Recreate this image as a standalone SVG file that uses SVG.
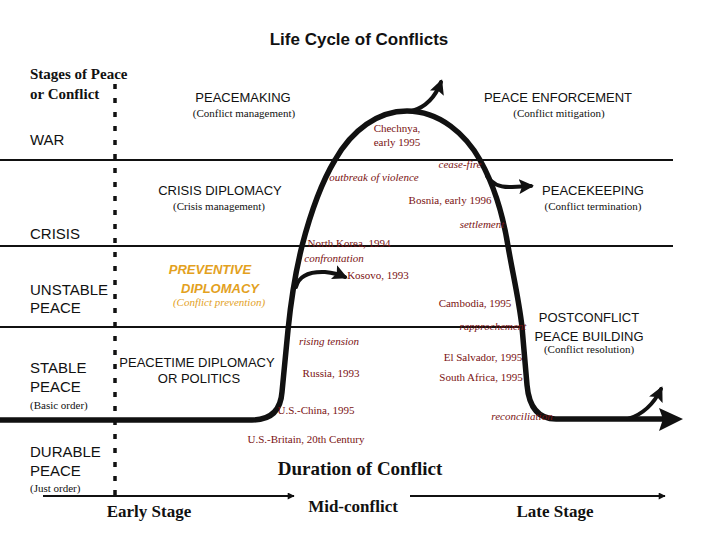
<svg xmlns="http://www.w3.org/2000/svg" width="720" height="540" viewBox="0 0 720 540">
<style>
.sans{font-family:"Liberation Sans",Arial,sans-serif;fill:#111}
.serif{font-family:"Liberation Serif","Times New Roman",serif;fill:#111}
.lbl{font-size:15px}
.hd{font-size:13px}
.sub{font-size:11px}
.red{font-family:"Liberation Serif","Times New Roman",serif;font-size:11px;fill:#7a1212}
.it{font-style:italic}
.bold{font-weight:bold}
.org{fill:#e3a11e}
.grid{stroke:#111;stroke-width:2;fill:none}
.curve{stroke:#111;stroke-width:5.5;fill:none;stroke-linecap:round;stroke-linejoin:round}
.branch{stroke:#111;stroke-width:4;fill:none;stroke-linecap:round}
.axis{stroke:#111;stroke-width:2;fill:none}
</style>
<defs>
<marker id="ah" viewBox="0 0 10 10" refX="8" refY="5" markerWidth="15" markerHeight="15" markerUnits="userSpaceOnUse" orient="auto"><path d="M0,0 L10,5 L0,10 L2,5 z" fill="#111"/></marker>
<marker id="sm" viewBox="0 0 10 10" refX="9" refY="5" markerWidth="8" markerHeight="7" markerUnits="userSpaceOnUse" orient="auto"><path d="M0,0 L10,5 L0,10 z" fill="#111"/></marker>
</defs>
<rect width="720" height="540" fill="#fff"/>

<text class="sans bold" x="359" y="45" font-size="17" text-anchor="middle">Life Cycle of Conflicts</text>

<g id="grid">
<line class="grid" x1="0" y1="160" x2="673" y2="160"/>
<line class="grid" x1="0" y1="246" x2="673" y2="246"/>
<line class="grid" x1="0" y1="327" x2="524" y2="327"/>
<line x1="115" y1="84" x2="115" y2="496" stroke="#111" stroke-width="3.5" stroke-dasharray="5 9"/>
</g>

<g id="stages">
<text class="serif bold" x="30" y="79" font-size="15">Stages of Peace</text>
<text class="serif bold" x="30" y="99" font-size="15">or Conflict</text>
<text class="sans lbl" x="30" y="145">WAR</text>
<text class="sans lbl" x="30" y="239">CRISIS</text>
<text class="sans lbl" x="30" y="295">UNSTABLE</text>
<text class="sans lbl" x="30" y="313">PEACE</text>
<text class="sans lbl" x="30" y="373">STABLE</text>
<text class="sans lbl" x="30" y="392">PEACE</text>
<text class="serif sub" x="30" y="409">(Basic order)</text>
<text class="sans lbl" x="30" y="457">DURABLE</text>
<text class="sans lbl" x="30" y="476">PEACE</text>
<text class="serif sub" x="30" y="492">(Just order)</text>
</g>

<g id="peacemaking">
<text class="sans hd" x="243" y="102" text-anchor="middle">PEACEMAKING</text>
<text class="serif sub" x="244" y="117" text-anchor="middle">(Conflict management)</text>
</g>
<g id="crisis-diplomacy">
<text class="sans hd" x="220" y="195" text-anchor="middle">CRISIS DIPLOMACY</text>
<text class="serif sub" x="219" y="210" text-anchor="middle">(Crisis management)</text>
</g>
<g id="preventive">
<text class="sans hd bold it org" x="210" y="274" text-anchor="middle">PREVENTIVE</text>
<text class="sans hd bold it org" x="220" y="293" text-anchor="middle">DIPLOMACY</text>
<text class="serif sub it org" x="219" y="306" text-anchor="middle">(Conflict prevention)</text>
</g>
<g id="peacetime">
<text class="sans hd" x="197" y="367" text-anchor="middle">PEACETIME DIPLOMACY</text>
<text class="sans hd" x="199" y="383" text-anchor="middle">OR POLITICS</text>
</g>
<g id="enforcement">
<text class="sans hd" x="558" y="102" text-anchor="middle">PEACE ENFORCEMENT</text>
<text class="serif sub" x="559" y="117" text-anchor="middle">(Conflict mitigation)</text>
</g>
<g id="peacekeeping">
<text class="sans hd" x="593" y="195" text-anchor="middle">PEACEKEEPING</text>
<text class="serif sub" x="593" y="210" text-anchor="middle">(Conflict termination)</text>
</g>
<g id="postconflict">
<text class="sans hd" x="589" y="322" text-anchor="middle">POSTCONFLICT</text>
<text class="sans hd" x="589" y="341" text-anchor="middle">PEACE BUILDING</text>
<text class="serif sub" x="589" y="353" text-anchor="middle">(Conflict resolution)</text>
</g>

<g id="connectors">
<path class="curve" d="M 0 420 L 252 420 Q 280 420 282 392 L 288 330 C 291 300 296 270 302 246 C 310 215 320 185 335 160 C 352 130 378 111 407 111 C 440 111 466 135 480 160 C 494 185 503 215 508 246 C 513 275 519 300 522 327 L 527 385 Q 530 419 556 419 L 664 419"/>
<polygon points="659,408 683,419 659,431 663,419" fill="#111"/>
<path class="branch" d="M 412 111 C 426 107 435 98 441 82" marker-end="url(#ah)"/>
<path class="branch" d="M 296 287 Q 300 271 325 272 Q 336 273 345 277" marker-end="url(#ah)"/>
<path class="branch" d="M 487 176 Q 494 188 512 187 L 531 186" marker-end="url(#ah)"/>
<path class="branch" d="M 628 419 Q 650 412 661 389" marker-end="url(#ah)"/>
<line class="axis" x1="43" y1="496" x2="294" y2="496" marker-end="url(#sm)"/>
<line class="axis" x1="410" y1="496" x2="665" y2="496" marker-end="url(#sm)"/>
</g>

<g id="events">
<text class="red" x="397" y="132" text-anchor="middle">Chechnya,</text>
<text class="red" x="397" y="146" text-anchor="middle">early 1995</text>
<text class="red it" x="460" y="168" text-anchor="middle">cease-fire</text>
<text class="red it" x="374" y="181" text-anchor="middle">outbreak of violence</text>
<text class="red" x="450" y="204" text-anchor="middle">Bosnia, early 1996</text>
<text class="red it" x="482" y="228" text-anchor="middle">settlement</text>
<text class="red" x="349" y="247" text-anchor="middle">North Korea, 1994</text>
<text class="red it" x="334" y="262" text-anchor="middle">confrontation</text>
<text class="red" x="378" y="279" text-anchor="middle">Kosovo, 1993</text>
<text class="red" x="475" y="307" text-anchor="middle">Cambodia, 1995</text>
<text class="red it" x="493" y="330" text-anchor="middle">rapprochement</text>
<text class="red it" x="329" y="345" text-anchor="middle">rising tension</text>
<text class="red" x="483" y="361" text-anchor="middle">El Salvador, 1995</text>
<text class="red" x="331" y="377" text-anchor="middle">Russia, 1993</text>
<text class="red" x="481" y="381" text-anchor="middle">South Africa, 1995</text>
<text class="red" x="316" y="414" text-anchor="middle">U.S.-China, 1995</text>
<text class="red it" x="522" y="420" text-anchor="middle">reconciliation</text>
<text class="red" x="306" y="443" text-anchor="middle">U.S.-Britain, 20th Century</text>
</g>

<g id="axis-labels">
<text class="serif bold" x="360" y="475" font-size="19" text-anchor="middle">Duration of Conflict</text>
<text class="serif bold" x="149" y="517" font-size="17" text-anchor="middle">Early Stage</text>
<text class="serif bold" x="353" y="512" font-size="17" text-anchor="middle">Mid-conflict</text>
<text class="serif bold" x="555" y="517" font-size="17" text-anchor="middle">Late Stage</text>
</g>
</svg>
